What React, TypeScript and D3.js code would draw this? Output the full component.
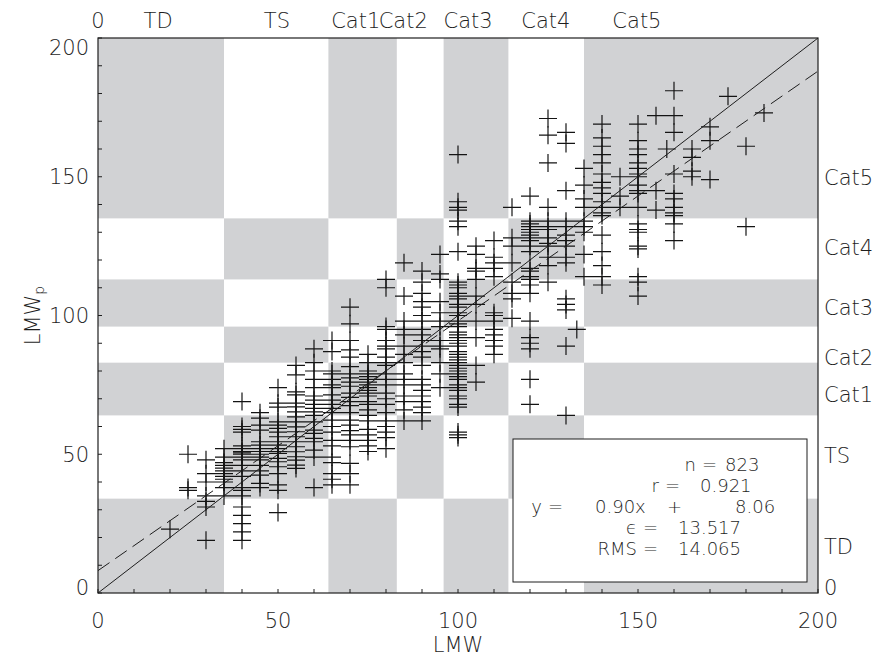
import React from 'react';
import * as d3 from 'd3';

const lmwColumns = [20, 25, 30, 35, 40, 45, 50, 55, 60, 65, 70, 75, 80, 85, 90, 95, 100, 105, 110, 115, 120, 125, 130, 135, 140, 145, 150, 155, 160, 165, 170, 175, 180, 185];
const lmwpColumns = [
  [23],
  [50, 38, 37],
  [48, 43, 40, 35, 33, 31, 19],
  [52, 49, 47, 46, 45, 44, 43, 42, 41, 40, 38, 35],
  [69, 60, 59, 58, 53, 52, 51, 50.5, 50, 49, 48, 46, 44, 42, 38, 37, 35, 31, 28, 25, 22, 19],
  [65, 63, 60.5, 58.7, 54.5, 53.3, 52, 51, 50, 49, 48, 46, 44, 42.5, 39.5, 38],
  [74, 68.4, 67, 61.7, 60.5, 59.3, 58, 56.3, 54.5, 53.3, 52, 51, 50.3, 48.5, 47.3, 45.5, 43, 39, 37, 29],
  [82, 78.6, 72.5, 71.4, 68.4, 67.1, 65.3, 63.5, 61.7, 59.9, 58.1, 56.3, 54.5, 52.7, 50.9, 49.1, 47.9, 46.1, 44.9],
  [88, 83, 80, 77, 74, 71, 69.5, 68, 66.5, 65.3, 64, 61.7, 58.7, 57.5, 55.7, 54.5, 51.5, 49, 38],
  [91, 87, 80, 79, 77, 75, 74, 71.4, 69.5, 68, 66.5, 65, 62.3, 60, 58, 55, 53, 49, 47, 43, 41, 39],
  [103, 97, 91, 87.6, 85, 81.6, 79, 77.5, 76, 74.5, 72, 70.5, 69, 67.5, 65, 62.3, 60.5, 58.5, 57, 55, 52.7, 46.7, 43, 39],
  [86, 83, 80, 79, 78, 77, 76, 75, 74, 73, 72, 71, 69, 68, 66, 64, 62, 59, 57, 55, 53, 51],
  [113, 110, 96, 95, 91, 89, 88, 85, 83, 82, 79, 77, 75, 72, 70, 68, 65, 62, 60, 58, 56, 52],
  [119, 107, 98, 95, 93, 89, 86, 83, 79, 77, 75, 71, 69, 66, 62],
  [116, 112, 108, 105, 103, 100, 98, 95, 93, 91, 89, 87, 85, 82, 77, 75, 73, 71, 69, 67, 65, 62],
  [122, 115, 113, 105, 101, 98, 96, 91, 89, 88, 83, 79, 74],
  [158, 141, 139, 138, 134, 132, 123, 112, 111, 110, 108, 107, 106, 104, 103, 101, 100, 98, 97, 96, 94, 93, 92, 91, 90, 89, 87, 86, 85, 84, 83, 82, 81, 80, 79, 78, 77, 75, 74, 73, 71, 70, 68, 67, 58, 57, 56],
  [125, 122, 117, 116, 113, 107, 104, 98, 92, 82, 76],
  [127, 121, 119, 117, 114, 101, 100, 98, 95, 93, 91, 89, 86],
  [139, 128, 125, 119, 112, 108, 106, 99],
  [143, 134, 133, 132, 131, 130, 129, 128, 127, 125, 123, 117, 116, 114, 113, 111, 108, 98, 92, 90, 88, 77, 68],
  [171, 165, 155, 139, 134, 132, 131, 128, 126, 125, 121, 118, 112],
  [166, 162, 145, 134, 132, 129, 127, 125, 121, 119, 106, 104, 102, 89, 64],
  [153, 147, 142, 139, 134, 132, 130, 122, 114],
  [169, 164, 161, 158, 155, 151, 148, 146, 144, 141, 139, 137, 136, 129, 123, 118, 114, 111],
  [150, 143, 139],
  [169, 163, 160, 158, 155, 153, 151, 150, 147, 145, 144, 139, 133, 131, 130, 125, 124, 114, 112, 107],
  [172, 145, 138],
  [181, 172, 166, 151, 144, 142, 139, 137, 136, 133, 127],
  [160, 157, 152, 150],
  [168, 163, 149],
  [179],
  [161, 132],
  [173],
];
const extraPoints: [number, number][] = [[133, 95], [158, 160]];

// Saffir-Simpson category breaks (kt) for the shaded cells
const xBreaks = [0, 35, 64, 83, 96, 114, 135, 200];
const yBreaks = [0, 34, 64, 83, 96, 113, 135, 200];
const categoryNames = ['0', 'TD', 'TS', 'Cat1', 'Cat2', 'Cat3', 'Cat4', 'Cat5'];
const categoryLabelAt = [0, 16.7, 49.7, 71.6, 84.8, 102.8, 124.4, 149.7];

const axisTicks = [0, 50, 100, 150, 200];
const fitSlope = 0.9;
const fitIntercept = 8.06;
// key, position of '=', value, x where the value starts
const statsRows: [string, number, string, number][] = [
  ['n', 702, '823', 725],
  ['r', 665, '0.921', 700],
  ['y', 548, '0.90x', 595],
  ['\u03f5', 643, '13.517', 678],
  ['RMS', 643, '14.065', 678],
];
const fitTail: [string, number][] = [['+', 667], ['8.06', 735]];

const W = 879;
const H = 659;
const left = 98, right = 818, top = 38, bottom = 593;
const font = '"DejaVu Sans", sans-serif';
const ink = '#1e1e1e';

export default function App() {
  const x = d3.scaleLinear().domain([0, 200]).range([left, right]);
  const y = d3.scaleLinear().domain([0, 200]).range([bottom, top]);

  const points: [number, number][] = [];
  lmwColumns.forEach((lmw, i) => lmwpColumns[i].forEach(v => points.push([lmw, v])));
  extraPoints.forEach(p => points.push(p));

  const cells: { x0: number; x1: number; y0: number; y1: number }[] = [];
  for (let i = 0; i < xBreaks.length - 1; i++) {
    for (let j = 0; j < yBreaks.length - 1; j++) {
      if ((i + j) % 2 === 0) {
        cells.push({ x0: xBreaks[i], x1: xBreaks[i + 1], y0: yBreaks[j], y1: yBreaks[j + 1] });
      }
    }
  }

  const line = d3.line<[number, number]>().x(d => x(d[0])).y(d => y(d[1]));
  const minorTicks = d3.range(0, 201, 10);
  const fs = 21;

  return (
    <svg width={W} height={H} style={{ position: 'absolute', left: 0, top: 0, background: '#fff' }}
      fontFamily={font} fontWeight={200}>
      <rect x={0} y={0} width={W} height={H} fill="#fff" />

      {cells.map((c, k) => (
        <rect key={k} x={x(c.x0)} y={y(c.y1)} width={x(c.x1) - x(c.x0)} height={y(c.y0) - y(c.y1)} fill="#d1d2d4" />
      ))}

      {points.map((p, k) => (
        <path key={k} d={`M${x(p[0]) - 9},${y(p[1])}h18M${x(p[0])},${y(p[1]) - 9}v18`}
          stroke="#141414" strokeWidth={1.2} fill="none" />
      ))}

      <path d={line([[0, 0], [200, 200]]) || ''} stroke={ink} strokeWidth={1} fill="none" />
      <path d={line([[0, fitIntercept], [200, fitSlope * 200 + fitIntercept]]) || ''} stroke={ink} strokeWidth={1}
        strokeDasharray="14,7" fill="none" />

      {/* stats box */}
      <rect x={513} y={439} width={294} height={143} fill="#fff" stroke={ink} strokeWidth={1} />
      {statsRows.map(([key, eqX, val, valX], r) => {
        const by = 471 + r * 21;
        return (
          <g key={r} fontSize={18} fill={ink}>
            <text x={eqX - 6} y={by} textAnchor="end">{key}</text>
            <text x={eqX} y={by}>=</text>
            <text x={valX} y={by}>{val}</text>
            {r === 2 && fitTail.map(([t, tx]) => (
              <text key={t} x={tx} y={by}>{t}</text>
            ))}
          </g>
        );
      })}

      {/* frame */}
      <rect x={left} y={top} width={right - left} height={bottom - top} fill="none" stroke={ink} strokeWidth={1.2} />

      {minorTicks.map(t => (
        <g key={t}>
          <line x1={x(t)} x2={x(t)} y1={bottom} y2={bottom - 4} stroke={ink} />
          <line x1={left} x2={left + 4} y1={y(t)} y2={y(t)} stroke={ink} />
        </g>
      ))}

      {axisTicks.map(t => (
        <text key={'bx' + t} x={x(t)} y={bottom + 35} fontSize={fs} textAnchor="middle" fill={ink}>{t}</text>
      ))}
      {axisTicks.map(t => (
        <text key={'ly' + t} x={left - 9} y={y(t) + (t === 200 ? 9 : t === 0 ? -6 : 0)} dy="0.36em"
          fontSize={fs} textAnchor="end" fill={ink}>{t}</text>
      ))}

      {categoryNames.map((c, i) => (
        <text key={'tc' + c} x={x(categoryLabelAt[i])} y={28} fontSize={fs} textAnchor="middle" fill={ink}>{c}</text>
      ))}
      {categoryNames.map((c, i) => (
        <text key={'rc' + c} x={824} y={y(categoryLabelAt[i]) + (i === 0 ? -6 : 0)} dy="0.36em"
          fontSize={fs} textAnchor="start" fill={ink}>{c}</text>
      ))}

      <text x={(left + right) / 2} y={652} fontSize={fs} textAnchor="middle" fill={ink}>LMW</text>
      <text transform={`translate(40,${(top + bottom) / 2}) rotate(-90)`} fontSize={fs} textAnchor="middle" fill={ink}>
        LMW<tspan fontSize={14} dy="4">p</tspan>
      </text>
    </svg>
  );
}
